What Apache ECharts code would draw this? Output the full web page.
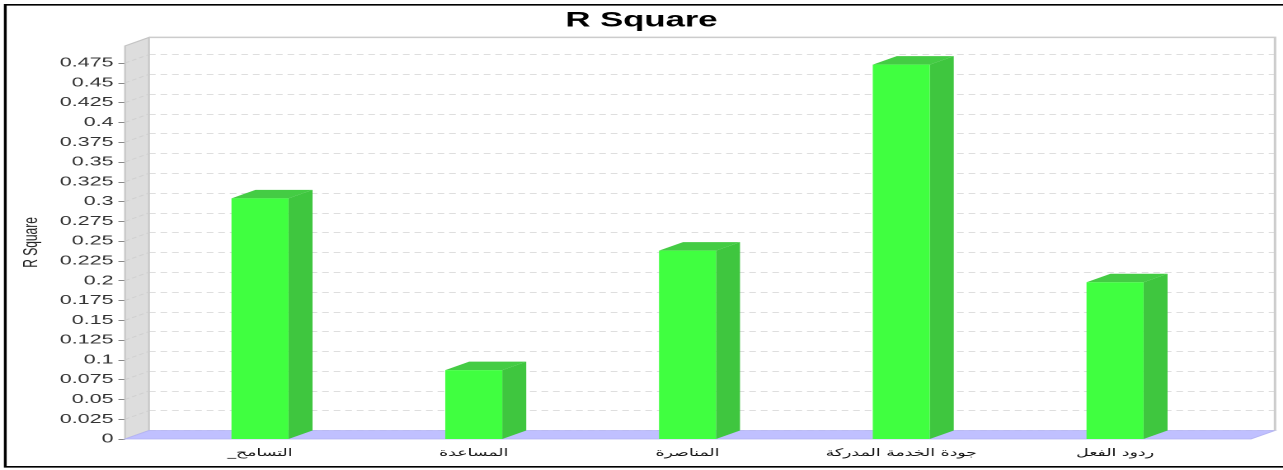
<!DOCTYPE html>
<html>
<head>
<meta charset="utf-8">
<script src="https://cdn.jsdelivr.net/npm/echarts@6/dist/echarts.min.js"></script>
<style>
html,body{margin:0;padding:0;background:#fff;overflow:hidden;width:1283px;height:470px;}
#chart{width:778px;height:470px;transform-origin:0 0;}
</style>
</head>
<body>
<div id="chart" dir="rtl"></div>
<script>
// ---- data ----
const categories = ['التسامح_', 'المساعدة', 'المناصرة', 'جودة الخدمة المدركة', 'ردود الفعل'];
const rSquare = [0.304, 0.087, 0.238, 0.473, 0.198];
const chartTitle = 'R Square';
const yAxisName = 'R Square';
const tickInterval = 0.025;

// ---- layout (chart drawn at 778px wide, stretched horizontally like the reference) ----
const W = 778, S = 1283 / W;
document.getElementById('chart').style.transform = 'scaleX(' + S + ')';
const DX = 24 / S, DY = -8.5;
const yMax = Math.max.apply(null, rSquare) * 1.05;
const frontLeft = 125 / S, frontRight = W - 1251 / S, frontTop = 45.9, frontBottom = 31;
const catLeft = 153.1 / S, catRight = W - 1221.9 / S;
const BAR_FRAC = 57 / 213.75;

const chart = echarts.init(document.getElementById('chart'), null, {renderer: 'canvas', devicePixelRatio: 2});

function wallsItem(params, api) {
  const p0 = api.coord([0, 0]);
  const p1 = api.coord([1, 0]);
  const pt = api.coord([0, yMax]);
  const children = [];
  // left wall
  children.push({type: 'polygon', shape: {points: [[p0[0], p0[1]], [pt[0], pt[1]], [pt[0] + DX, pt[1] + DY], [p0[0] + DX, p0[1] + DY]]},
    style: {fill: '#dddddd', stroke: '#c4c4c4', lineWidth: 1}});
  // slanted grid lines on the wall
  for (let v = tickInterval; v < yMax; v += tickInterval) {
    const q = api.coord([0, v]);
    children.push({type: 'line', shape: {x1: q[0], y1: q[1], x2: q[0] + DX, y2: q[1] + DY},
      style: {stroke: '#cfcfcf', lineWidth: 0.8, lineDash: [3, 2]}});
  }
  // floor
  children.push({type: 'polygon', shape: {points: [[p0[0], p0[1]], [p1[0], p1[1]], [p1[0] + DX, p1[1] + DY], [p0[0] + DX, p0[1] + DY]]},
    style: {fill: '#c0c0ff', stroke: '#b4b4f4', lineWidth: 0.8}});
  // back wall outline (top & right)
  const ptr = api.coord([1, yMax]);
  children.push({type: 'polyline', shape: {points: [[pt[0] + DX, pt[1] + DY], [ptr[0] + DX, ptr[1] + DY], [p1[0] + DX, p1[1] + DY]]},
    style: {stroke: '#cccccc', lineWidth: 1.5, fill: null}});
  return {type: 'group', children: children};
}

function barItem(params, api) {
  const x = api.value(0), v = api.value(1);
  const base = api.coord([x, 0]);
  const top = api.coord([x, v]);
  const band = api.size([1, 0])[0];
  const w = band * BAR_FRAC;
  const l = base[0] - w / 2, r = l + w;
  return {type: 'group', children: [
    {type: 'polygon', shape: {points: [[r, top[1]], [r + DX, top[1] + DY], [r + DX, base[1] + DY], [r, base[1]]]},
      style: {fill: '#3fc63f'}},
    {type: 'polygon', shape: {points: [[l, top[1]], [l + DX, top[1] + DY], [r + DX, top[1] + DY], [r, top[1]]]},
      style: {fill: '#44cc44'}},
    {type: 'rect', shape: {x: l, y: top[1], width: w, height: base[1] - top[1]},
      style: {fill: '#40ff40'}}
  ]};
}

const hiddenY = (idx) => ({gridIndex: idx, type: 'value', min: 0, max: yMax, interval: tickInterval, show: false});

chart.setOption({
  animation: false,
  backgroundColor: '#ffffff',
  title: {text: chartTitle, left: 'center', top: 5,
    textStyle: {fontFamily: 'Liberation Sans, Arial, sans-serif', fontSize: 21, fontWeight: 'bold', color: '#000'}},
  graphic: [{type: 'rect', z: 100, shape: {x: 3.2, y: 4.8, width: 780, height: 462},
    style: {fill: null, stroke: '#000', lineWidth: 1.7}}],
  grid: [
    {left: frontLeft, right: frontRight, top: frontTop, bottom: frontBottom},
    {left: frontLeft + DX, right: frontRight - DX, top: frontTop + DY, bottom: frontBottom - DY},
    {left: catLeft, right: catRight, top: frontTop, bottom: frontBottom}
  ],
  xAxis: [
    {gridIndex: 0, type: 'value', min: 0, max: 1, show: false},
    {gridIndex: 1, type: 'value', min: 0, max: 1, show: false},
    {gridIndex: 2, type: 'category', data: categories,
      axisLine: {show: false}, axisTick: {show: false},
      axisLabel: {margin: 9, fontSize: 10.5, fontFamily: 'DejaVu Sans, sans-serif', color: '#111', interval: 0}}
  ],
  yAxis: [
    {gridIndex: 0, type: 'value', min: 0, max: yMax, interval: tickInterval,
      name: yAxisName, nameLocation: 'middle', nameGap: 38, nameRotate: 90,
      nameTextStyle: {fontFamily: 'Liberation Sans, Arial, sans-serif', fontSize: 12, color: '#222'},
      axisLine: {show: false},
      axisTick: {show: true, length: 4, lineStyle: {color: '#888'}},
      axisLabel: {margin: 7, showMaxLabel: false, fontFamily: 'Liberation Sans, Arial, sans-serif', fontSize: 13, color: '#333',
        formatter: (v) => String(+v.toFixed(3))},
      splitLine: {show: false}},
    {gridIndex: 1, type: 'value', min: 0, max: yMax, interval: tickInterval,
      axisLine: {show: false}, axisTick: {show: false}, axisLabel: {show: false},
      splitLine: {show: true, lineStyle: {color: '#dedede', type: [4, 3], width: 1}}},
    hiddenY(2)
  ],
  series: [
    {type: 'custom', name: 'walls', xAxisIndex: 0, yAxisIndex: 0, z: 1, silent: true,
      data: [[0, 0]], renderItem: wallsItem},
    {type: 'custom', name: 'R Square', xAxisIndex: 2, yAxisIndex: 2, z: 3,
      data: rSquare.map((v, i) => [i, v]), renderItem: barItem}
  ]
});
</script>
</body>
</html>
